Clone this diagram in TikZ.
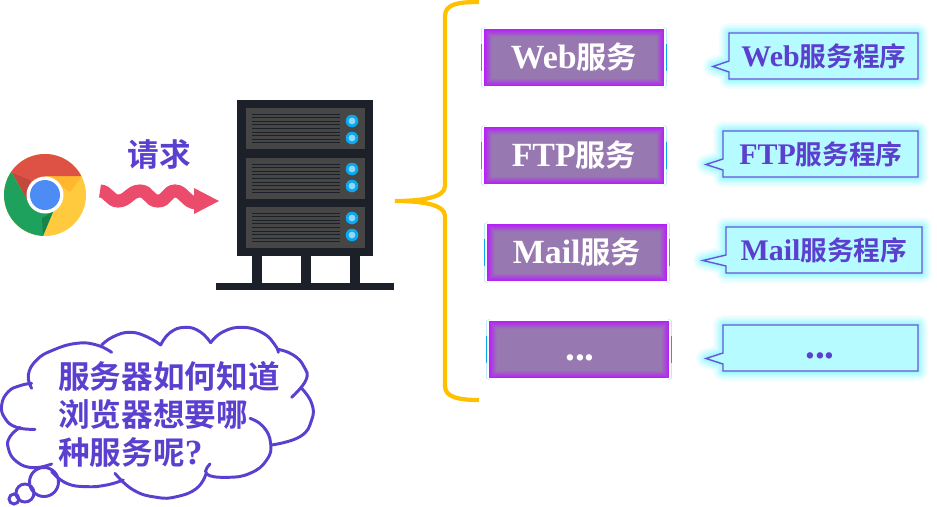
\documentclass[tikz,border=0pt]{standalone}
\usepackage{fontspec}
\setmainfont{Liberation Serif}
\newfontfamily\cjkfont{Noto Sans CJK SC}[BoldFont={Noto Sans CJK SC Bold}]
\newfontfamily\latfont{Liberation Serif}[Scale=1.12]
\newcommand{\zh}[1]{{\cjkfont\bfseries #1}}
\newcommand{\lat}[1]{{\latfont\bfseries #1}}

\definecolor{inkblue}{HTML}{5B3FCF}
\definecolor{braceorange}{HTML}{FFC000}
\definecolor{racknavy}{HTML}{1C2028}
\definecolor{rackgray}{HTML}{464646}
\definecolor{ledblue}{HTML}{08A9F0}
\definecolor{ledpale}{HTML}{8FD8FA}
\definecolor{wavepink}{HTML}{EC4C6C}
\definecolor{svcpurple}{HTML}{9778B0}
\definecolor{svcedge}{HTML}{B81EFA}
\definecolor{progfill}{HTML}{B5FBFF}
\definecolor{progglow}{HTML}{7DF6FF}
\definecolor{progline}{HTML}{6A55D8}
\definecolor{chromered}{HTML}{DE5246}
\definecolor{chromegreen}{HTML}{1DA15C}
\definecolor{chromeyellow}{HTML}{FFCA3E}
\definecolor{chromeblue}{HTML}{4E8CF5}

\tikzset{
    svclabel/.style={text=white, font=\fontsize{21.5}{24}\selectfont},
    proglabel/.style={text=inkblue, font=\fontsize{19}{22}\selectfont},
    inklabel/.style={text=inkblue, font=\fontsize{22.5}{27}\selectfont, inner sep=0pt},
    cloudline/.style={draw=inkblue, line width=2.1pt, line cap=round},
    progline/.style={draw=progline, line width=1pt, miter limit=20}
}

\begin{document}
\begin{tikzpicture}[x=0.025cm,y=-0.025cm]
        \useasboundingbox (0,0) rectangle (937,506);

        % Browser icon
        \begin{scope}
            \clip (45,195) circle (41);
            \fill[chromeyellow] (0,150) rectangle (90,240);
            \fill[orange, opacity=0.25] (45,176) -- (82,176) -- (70,192) -- cycle;
            \fill[chromered] (45,195) -- (27,200) -- (12,173) -- (0,150) -- (90,150) -- (82,176) -- (45,176) -- cycle;
            \fill[black, opacity=0.12] (27,200) -- (12,173) -- (30,180) -- (35,190) -- cycle;
            \fill[chromegreen] (27,200) -- (12,173) -- (0,150) -- (0,240) -- (43,240) -- (43,236) -- (53,212) -- (45,195) -- cycle;
            \fill[black, opacity=0.18] (43,236) -- (53,212) -- (42,218) -- cycle;
        \end{scope}
        \fill[white] (45,195) circle (18.5);
        \fill[chromeblue] (45,195) circle (15);

        % Request label and wavy arrow
        \node[inklabel] (request) at (159,154) {\zh{请求}};
        \draw[wavepink, line width=9.3pt] (100,191)
            .. controls (108,191) and (110,201) .. (118,201)
            .. controls (128,201) and (130,191) .. (140,191)
            .. controls (149,191) and (149,201) .. (158,201)
            .. controls (167,201) and (167,191) .. (175,191)
            .. controls (184,191) and (186,203) .. (197,203);
        \fill[wavepink] (194,188) -- (219,201) -- (194,214) -- cycle;

        % Server rack
        \fill[racknavy] (237,100) rectangle (373,256);
        \foreach \x in {252,301,350} {
            \fill[racknavy] (\x,256) rectangle ++(10,28);
        }
        \fill[racknavy] (216,283) rectangle (394,290);
        \foreach \y/\a/\b in {108/13/30,158/11/28,207/11/28} {
            \fill[rackgray] (246,\y) rectangle ++(119,41);
            \foreach \k in {6,9.6,...,36} {
                \draw[racknavy, line width=0.6pt] (252,\y+\k) -- ++(88,0);
            }
            \foreach \k in {\a,\b} {
                \fill[ledblue] (352,\y+\k) circle (6.3);
                \fill[ledpale] (352,\y+\k) circle (3.4);
            }
        }

        % Curly brace
        \draw[braceorange, line width=3pt] (479,2) .. controls (458,2) and (445,4) .. (445,16)
            -- (445,186) .. controls (445,198) and (420,201) .. (395,201)
            .. controls (420,201) and (445,204) .. (445,216)
            -- (445,386) .. controls (445,397) and (458,400) .. (479,400);

        % Service boxes
        \foreach \name/\x/\y/\txt in {
            web/484/29/{\lat{Web}\zh{服务}},
            ftp/484/127/{\lat{FTP}\zh{服务}},
            mail/487/224/{\lat{Mail}\zh{服务}},
            more/489/321/{}} {
            \fill[svcedge] (\x,\y) rectangle ++(180,57);
            \foreach \k in {0.5,1,...,7.5} {
                \pgfmathsetmacro{\mixval}{\k*13.3}
                \fill[svcpurple!\mixval!svcedge] (\x+\k,\y+\k) rectangle (\x+180-\k,\y+57-\k);
            }
            \draw[cyan!25, line width=0.4pt] (\x+1,\y-2) -- (\x-2.5,\y) -- (\x-2.5,\y+57) -- (\x+1,\y+59);
            \draw[cyan!25, line width=0.4pt] (\x+179,\y-2) -- (\x+182.5,\y) -- (\x+182.5,\y+57) -- (\x+179,\y+59);
            \draw[ledblue, line width=0.4pt] (\x-2.5,\y+15) -- ++(0,27);
            \draw[ledblue, line width=0.4pt] (\x+182.5,\y+15) -- ++(0,27);
            \node[svclabel] (svc\name) at (\x+90,\y+28) {\txt};
        }
        \node[text=white, font=\fontsize{28}{30}\selectfont\bfseries, anchor=base] (svcdots) at (580,360) {...};

        % Program callouts
        \foreach \name/\l/\r/\t/\tipx/\txt/\cx in {
            web/729/918/33/713/{\lat{Web}\zh{服务程序}}/824,
            ftp/723/918/131/706/{\lat{FTP}\zh{服务程序}}/821,
            mail/726/922/227/703/{\lat{Mail}\zh{服务程序}}/824,
            more/723/918/325/706/{}/820} {
            \foreach \w/\op in {14/0.12,11/0.16,8/0.22,5/0.3,2.5/0.4} {
                \draw[progglow, line width=\w pt, opacity=\op, line join=round]
                    (\l,\t) -- (\r,\t) -- (\r,\t+46) -- (\l,\t+46) -- (\l,\t+39) -- (\tipx,\t+33.5) -- (\l,\t+28) -- cycle;
            }
            \draw[progline, fill=progfill]
                (\l,\t) -- (\r,\t) -- (\r,\t+46) -- (\l,\t+46) -- (\l,\t+39) -- (\tipx,\t+33.5) -- (\l,\t+28) -- cycle;
            \node[proglabel] (prog\name) at (\cx,\t+23) {\txt};
        }
        \node[text=inkblue, font=\fontsize{28}{30}\selectfont\bfseries, anchor=base] (progdots) at (820,358) {...};

        % Thought cloud
        \begin{scope}[shift={(0,320)},scale=0.3333]
            \draw[cloudline] plot[smooth, tension=0.8] coordinates {(95,205) (85,165) (110,120) (160,90) (230,70) (290,75) (335,97)};
            \draw[cloudline] plot[smooth, tension=0.8] coordinates {(305,75) (340,50) (390,37) (440,50) (482,75)};
            \draw[cloudline] plot[smooth, tension=0.8] coordinates {(482,75) (510,38) (555,22) (600,35) (632,68)};
            \draw[cloudline] plot[smooth, tension=0.8] coordinates {(632,68) (670,35) (730,22) (790,40) (825,75) (835,97)};
            \draw[cloudline] plot[smooth, tension=0.8] coordinates {(835,88) (880,105) (912,140) (918,180) (875,232)};
            \draw[cloudline] plot[smooth, tension=0.8] coordinates {(905,205) (935,250) (935,300) (900,350) (815,375)};
            \draw[cloudline] plot[smooth, tension=0.8] coordinates {(750,295) (790,320) (812,370) (800,420) (750,460) (680,472) (620,462) (630,432)};
            \draw[cloudline] plot[smooth, tension=0.8] coordinates {(618,462) (590,505) (530,530) (470,532) (400,510) (345,460)};
            \draw[cloudline] plot[smooth, tension=0.8] coordinates {(370,480) (320,495) (260,500) (200,490) (155,455)};
            \draw[cloudline] plot[smooth, tension=0.8] coordinates {(155,432) (100,443) (50,425) (25,385) (30,350) (60,322)};
            \draw[cloudline] plot[smooth, tension=0.8] coordinates {(105,328) (50,322) (15,295) (5,255) (25,215) (60,197) (95,190)};
        \end{scope}
        \draw[cloudline] (44,482) circle (14.5);
        \draw[cloudline] (25,493) circle (9);
        \draw[cloudline] (14,499) circle (5);

        % Cloud text
        \node[inklabel, anchor=west] (askone) at (58,376) {\zh{服务器如何知道}};
        \node[inklabel, anchor=west] (asktwo) at (58,414) {\zh{浏览器想要哪}};
        \node[inklabel, anchor=west] (askthree) at (58,452) {\zh{种服务呢}\lat{?}};
\end{tikzpicture}
\end{document}
